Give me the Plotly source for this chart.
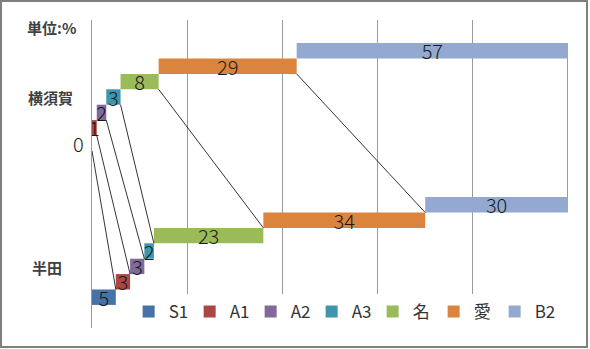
import plotly.graph_objects as go

categories = ['横須賀', '半田']
series = ['S1', 'A1', 'A2', 'A3', '名', '愛', 'B2']
yokosuka = [0, 1, 2, 3, 8, 29, 57]
handa = [5, 3, 3, 2, 23, 34, 30]
colors = ['#4572A7', '#AA4643', '#80699B', '#3D96AE', '#9BBB59', '#DB843D', '#93A9CF']
unit_label = '単位:%'

values = {'横須賀': yokosuka, '半田': handa}
ncat = len(categories)
pos = {c: ncat - 1 - i for i, c in enumerate(categories)}  # first category on top

group = 0.7
w = group / len(series)
off0 = -group / 2

starts = {}
ends = {}
for c in categories:
    s, e, acc = [], [], 0
    for v in values[c]:
        s.append(acc)
        acc += v
        e.append(acc)
    starts[c], ends[c] = s, e

label_font = dict(family='Noto Sans CJK JP', size=20, color='#1a1a1a', weight=300)

fig = go.Figure()
annotations = []
for i, name in enumerate(series):
    xs = [values[c][i] for c in categories]
    bases = [starts[c][i] for c in categories]
    ys = [pos[c] for c in categories]
    texts = [str(v) if v != 0 else '' for v in xs]
    fig.add_trace(go.Bar(
        y=ys, x=xs, base=bases, orientation='h', name=name,
        width=w, offset=off0 + w * i,
        marker=dict(color=colors[i], line=dict(width=0)),
        text=texts, textposition='inside', insidetextanchor='middle',
        textangle=0, constraintext='none',
        textfont=label_font, insidetextfont=label_font,
        hoverinfo='skip',
    ))
    for c in categories:
        if values[c][i] == 0:
            annotations.append(dict(
                x=starts[c][i], y=pos[c] + off0 + w * (i + 0.5),
                xref='x', yref='y', text='0', showarrow=False,
                font=label_font, xanchor='center', yanchor='middle', xshift=-14,
            ))

# series lines between the two categories
top, bot = categories[0], categories[1]
lx, ly = [], []
for i in range(len(series)):
    lx += [ends[top][i], ends[bot][i], None]
    ly += [pos[top] + off0 + w * i, pos[bot] + off0 + w * (i + 1), None]
fig.add_trace(go.Scatter(x=lx, y=ly, mode='lines', line=dict(color='#000000', width=0.8),
                         showlegend=False, hoverinfo='skip'))

cat_font = dict(family='Noto Sans CJK JP', size=15, color='#404040')
annotations.append(dict(x=-0.088, y=pos[top], xref='paper', yref='y', text='<b>' + top + '</b>',
                        showarrow=False, font=cat_font, xanchor='center', yanchor='middle'))
annotations.append(dict(x=-0.095, y=pos[bot], xref='paper', yref='y', text='<b>' + bot + '</b>',
                        showarrow=False, font=cat_font, xanchor='center', yanchor='middle', yshift=-16))
annotations.append(dict(x=-0.085, y=1.5, xref='paper', yref='y', text='<b>' + unit_label + '</b>',
                        showarrow=False, font=cat_font, xanchor='center', yanchor='middle', yshift=-7))

fig.update_layout(
    width=590, height=349,
    margin=dict(l=92, r=22, t=20, b=21),
    paper_bgcolor='white', plot_bgcolor='white',
    barmode='overlay',
    showlegend=True,
    legend=dict(orientation='h', x=0.077, y=0.052, xanchor='left', yanchor='middle',
                bgcolor='white', font=dict(family='Noto Sans CJK JP', size=17, color='#333333'),
                entrywidth=16, entrywidthmode='pixels', traceorder='normal', itemclick=False),
    xaxis=dict(range=[0, 100], dtick=20, showgrid=True, gridcolor='#9a9a9a', gridwidth=1,
               zeroline=False, showticklabels=False, showline=False, fixedrange=True),
    yaxis=dict(range=[-0.5, 1.5], showgrid=False, zeroline=False, showticklabels=False,
               showline=True, linecolor='#9a9a9a', linewidth=1, fixedrange=True),
    annotations=annotations,
    shapes=[dict(type='rect', xref='paper', yref='paper',
                 x0=(1 - 92) / 476, x1=(587 - 92) / 476,
                 y0=(328 - 347) / 308, y1=(328 - 1) / 308,
                 line=dict(color='#7f7f7f', width=2), fillcolor='rgba(0,0,0,0)', layer='above')],
)

fig.write_html('out.html')
